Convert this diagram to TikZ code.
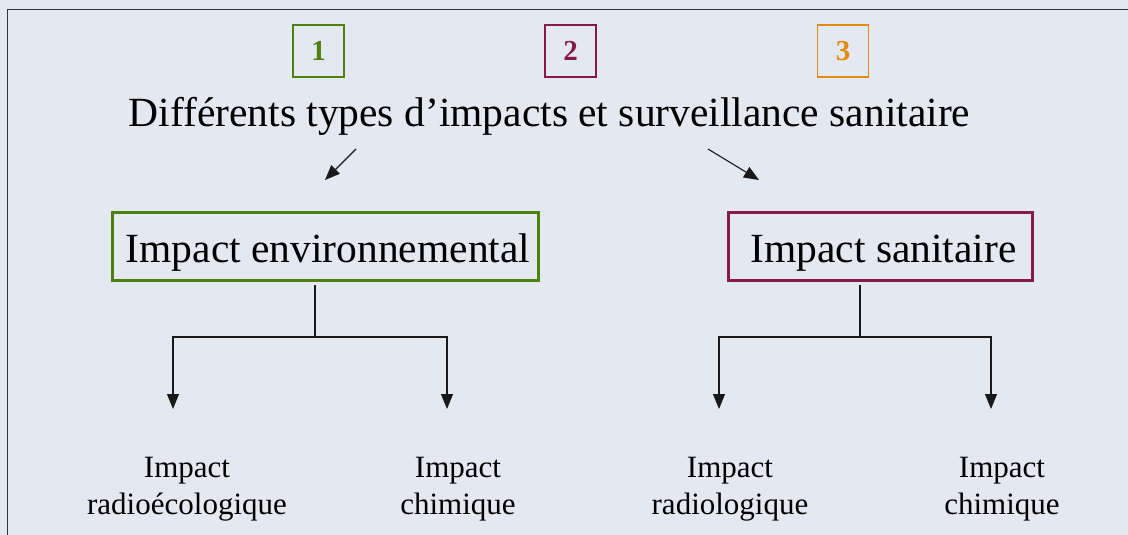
\documentclass[tikz,border=0pt]{standalone}
\usepackage{fontspec}
\setmainfont{Liberation Serif}
\usetikzlibrary{arrows.meta}
\definecolor{bgc}{HTML}{E4E8F0}
\definecolor{grn}{HTML}{4E800C}
\definecolor{mar}{HTML}{861A4C}
\definecolor{org}{HTML}{E38A10}
\tikzset{
  numbox/.style={draw=#1, line width=1.2pt, minimum width=51pt, minimum height=52pt, inner sep=0pt, text=#1, font=\fontsize{29}{29}\selectfont\bfseries},
  bigbox/.style={draw=#1, line width=3pt, minimum height=68pt, inner sep=0pt},
  bigtext/.style={font=\fontsize{41.5}{41.5}\selectfont, anchor=base, inner sep=0pt},
  leaf/.style={font=\fontsize{31}{37}\selectfont, align=center, inner sep=0pt},
  conn/.style={line width=1.1pt, draw=black!90},
  arr/.style={conn, -{Triangle[width=12pt,length=15pt]}},
}
\begin{document}
\begin{tikzpicture}[x=1pt,y=-1pt]
\fill[bgc] (0,0) rectangle (1128,535);
\useasboundingbox (0,0) rectangle (1128,535);
\draw[line width=1.6pt, black!80] (7.5,536) -- (7.5,9.5) -- (1129,9.5);
% number boxes
\node[numbox=grn] (n1) at (318.5,51) {1};
\node[numbox=mar] (n2) at (570.5,51) {2};
\node[numbox=org] (n3) at (843,51) {3};
% title
\node[bigtext] (title) at (549.5,127) {Différents types d’impacts et surveillance sanitaire};
\coordinate (ta) at (356,149);
\coordinate (tb) at (708,149);
\coordinate (ea) at (325,180);
\coordinate (eb) at (759,180);
\draw[arr] (ta) -- (ea);
\draw[arr] (tb) -- (eb);
% big boxes
\node[bigbox=grn, minimum width=426pt] (env) at (325,246) {};
\node[bigtext] (envt) at (328,262) {Impact environnemental};
\node[bigbox=mar, minimum width=304pt] (san) at (880,246) {};
\node[bigtext] (sant) at (883.5,262) {Impact sanitaire};
% leaves
\node[leaf] (l1) at (187,489.5) {Impact\\radioécologique};
\node[leaf] (l2) at (458,489.5) {Impact\\chimique};
\node[leaf] (l3) at (730,489.5) {Impact\\radiologique};
\node[leaf] (l4) at (1002,489.5) {Impact\\chimique};
% trees
\coordinate (e0) at (315,285);
\coordinate (e1) at (315,337);
\coordinate (eL) at (173,337);
\coordinate (eR) at (447,337);
\coordinate (eLt) at (173,409);
\coordinate (eRt) at (447,409);
\draw[conn] (e0) -- (e1);
\draw[arr] (e1) -- (eL) -- (eLt);
\draw[arr] (e1) -- (eR) -- (eRt);
\coordinate (s0) at (860,285);
\coordinate (s1) at (860,337);
\coordinate (sL) at (719,337);
\coordinate (sR) at (991,337);
\coordinate (sLt) at (719,409);
\coordinate (sRt) at (991,409);
\draw[conn] (s0) -- (s1);
\draw[arr] (s1) -- (sL) -- (sLt);
\draw[arr] (s1) -- (sR) -- (sRt);
\end{tikzpicture}
\end{document}
